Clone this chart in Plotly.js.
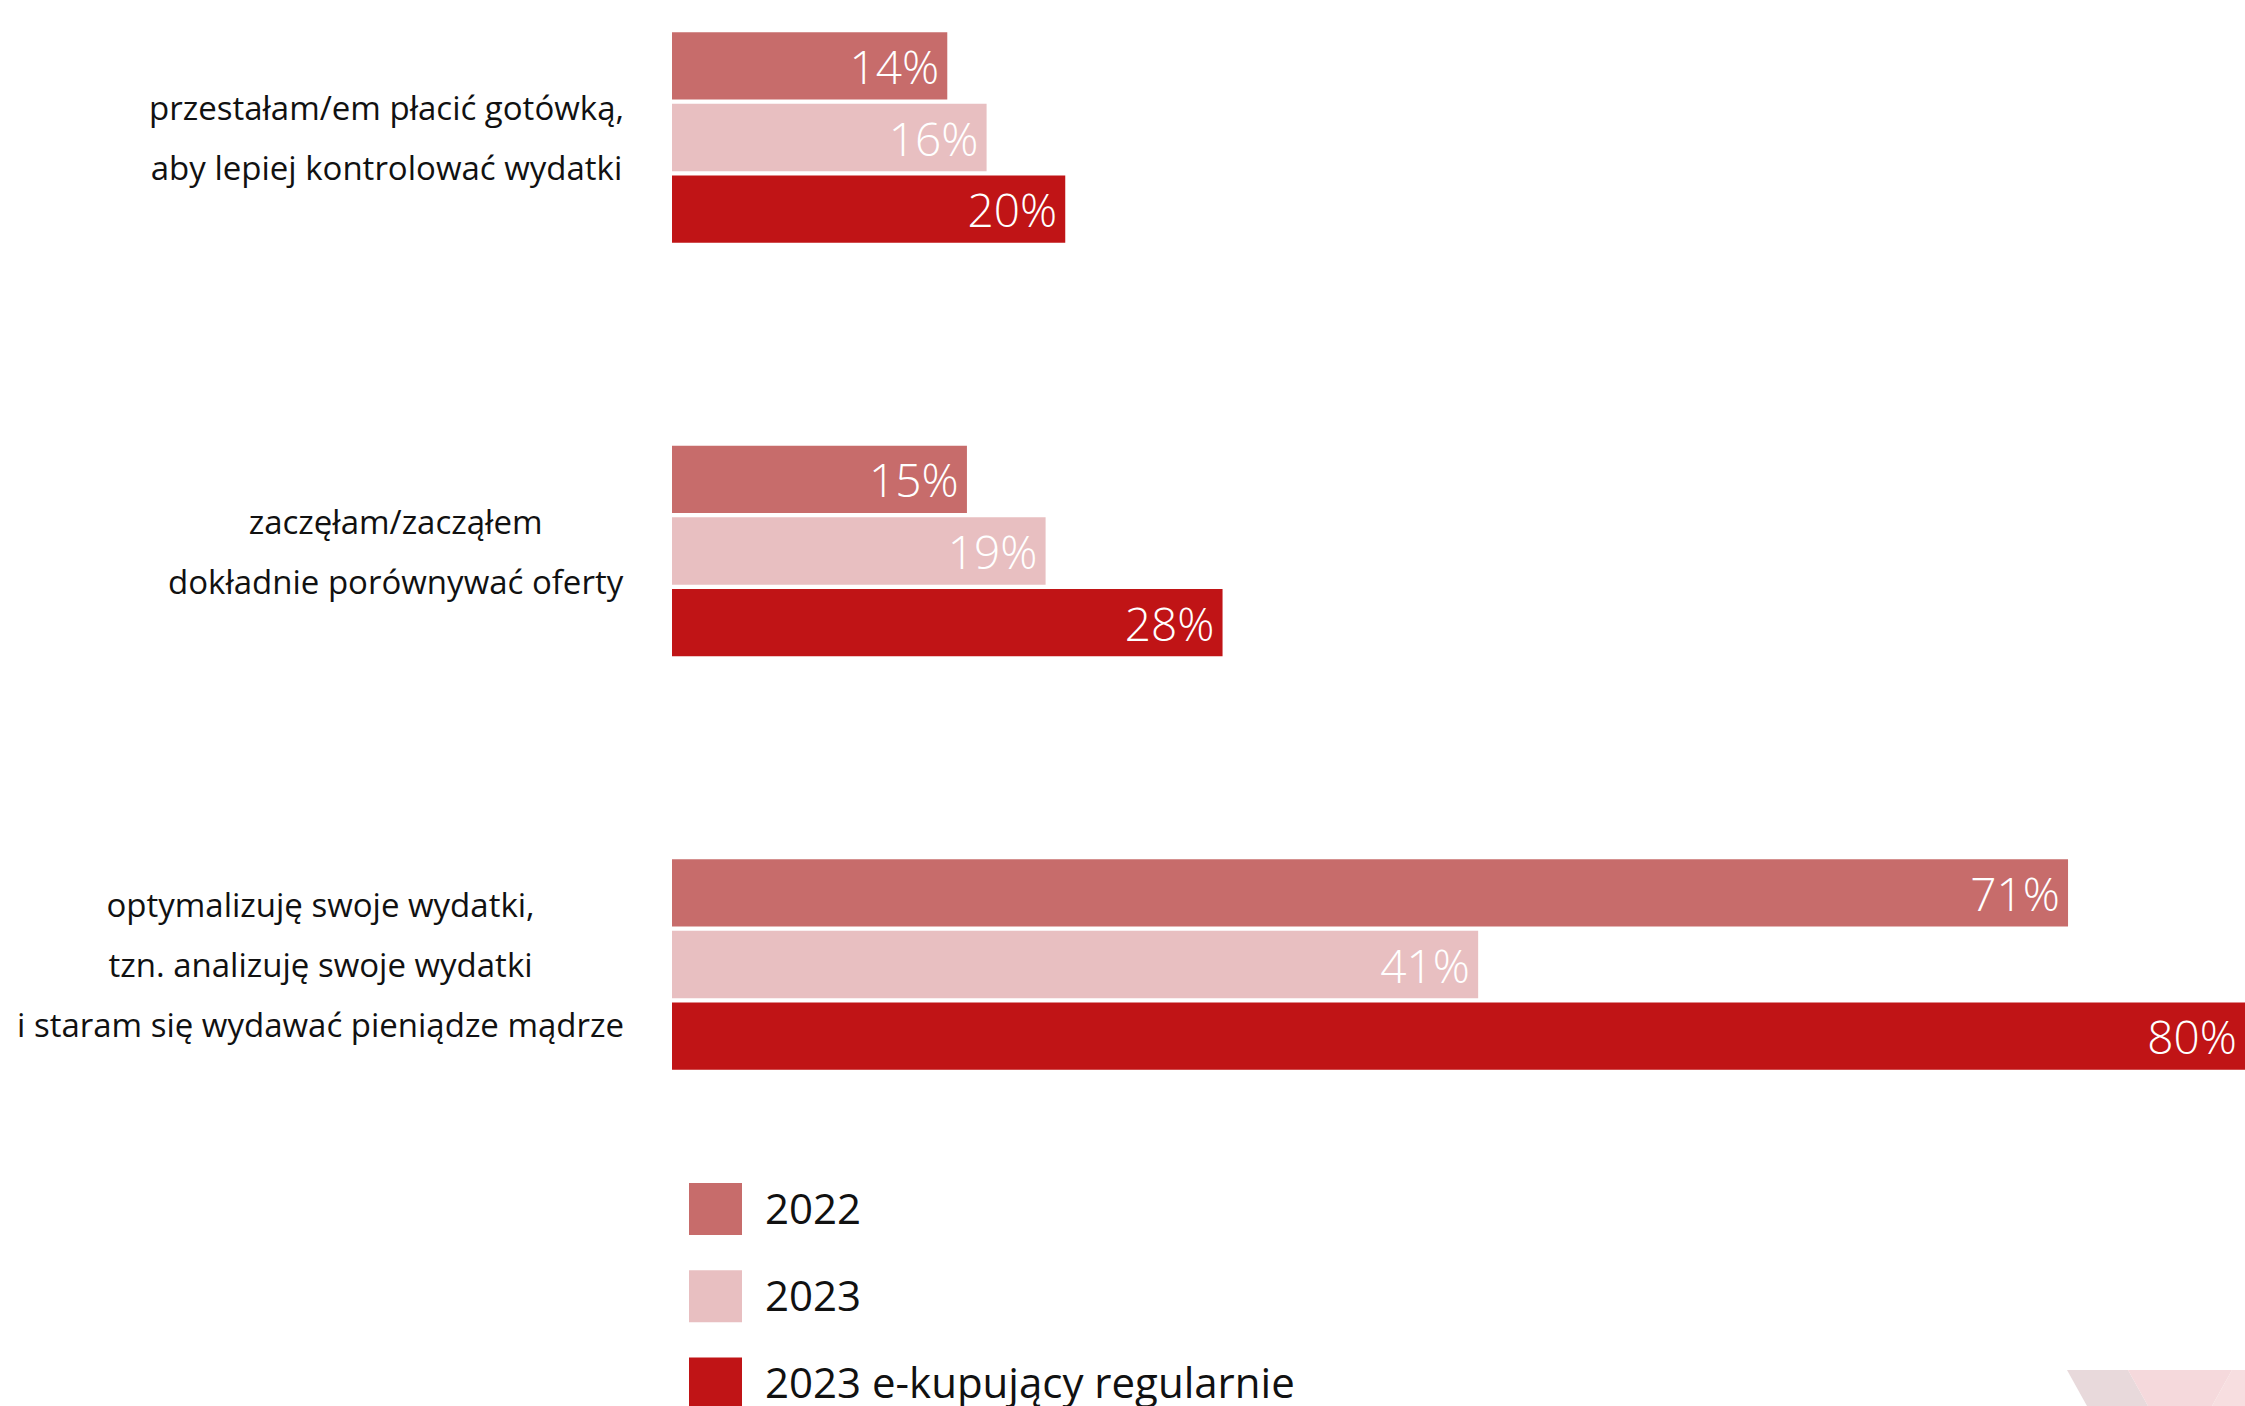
<!DOCTYPE html>
<html><head><meta charset="utf-8">
<script src="https://cdn.plot.ly/plotly-3.0.1.min.js"></script>
<style>html,body{margin:0;padding:0;background:#fff;} #chart{width:2245px;height:1406px;}</style>
</head><body><div id="chart"></div>
<script>
// ---- data ----
const categoryLines = [
  ['przestałam/em płacić gotówką,', 'aby lepiej kontrolować wydatki'],
  ['zaczęłam/zacząłem', 'dokładnie porównywać oferty'],
  ['optymalizuję swoje wydatki,', 'tzn. analizuję swoje wydatki', 'i staram się wydawać pieniądze mądrze']
];
const categories = categoryLines.map(l => l.join(' '));
const seriesNames = ['2022', '2023', '2023 e-kupujący regularnie'];
const values2022 = [14, 15, 71];
const values2023 = [16, 19, 41];
const valuesRegular = [20, 28, 80];

// ---- styles ----
const seriesColors = ['#C76C6B', '#E8BFC1', '#C01416'];
const FONT = '"Open Sans", "Noto Sans", sans-serif';
const W = 2245, H = 1406, L = 672;
const pitch = 413.5, firstCenter = 137.5;
const yTop = -firstCenter / pitch, yBottom = (H - firstCenter) / pitch;
const px2x = p => (p - L) / (W - L);
const px2y = p => 1 - p / H;

const seriesValues = [values2022, values2023, valuesRegular];
const traces = seriesValues.map((vals, i) => ({
  type: 'bar', orientation: 'h',
  name: seriesNames[i],
  x: vals, y: categories,
  marker: {color: seriesColors[i], line: {width: 0}},
  text: vals.map(v => v + '%<span style="font-size:20px">\u00A0</span>'),
  textposition: 'inside', insidetextanchor: 'end',
  textfont: {family: FONT, size: 46, color: '#ffffff', weight: 300},
  constraintext: 'none',
  hoverinfo: 'skip', showlegend: false
}));

const annotations = [];
categoryLines.forEach((lines, i) => {
  annotations.push({
    xref: 'x', yref: 'y', x: 0, y: i, xanchor: 'right', yanchor: 'middle',
    xshift: -46, align: 'center', showarrow: false,
    text: lines.map(t => '<span style="font-size:33px">' + t + '</span>').join('<br>'),
    font: {family: FONT, size: 46, color: '#111111'}
  });
});

const shapes = [];
const legendTop = 1183, legendPitch = 87.3, sw = 53, sh = 52;
seriesNames.forEach((n, i) => {
  const t = legendTop + i * legendPitch;
  shapes.push({type: 'rect', xref: 'paper', yref: 'paper', layer: 'above',
    x0: px2x(689), x1: px2x(689 + sw), y0: px2y(t), y1: px2y(t + sh),
    fillcolor: seriesColors[i], line: {width: 0}});
  annotations.push({xref: 'paper', yref: 'paper', x: px2x(763), y: px2y(t + sh / 2 - 2),
    xanchor: 'left', yanchor: 'middle', showarrow: false, text: n,
    font: {family: FONT, size: 42, color: '#111111'}});
});

// decorative corner
const poly = (pts, color) => ({type: 'path', xref: 'paper', yref: 'paper', layer: 'below',
  path: 'M' + pts.map(p => px2x(p[0]) + ',' + px2y(p[1])).join(' L') + ' Z',
  fillcolor: color, line: {width: 0}});
shapes.push(poly([[2067,1370],[2128,1370],[2148,1406],[2087,1406]], '#E8D9DB'));
shapes.push(poly([[2128,1370],[2232,1370],[2212,1406],[2148,1406]], '#F5D9DC'));
shapes.push(poly([[2232,1370],[2246,1370],[2246,1406],[2212,1406]], '#F7DEE0'));

const layout = {
  width: W, height: H,
  margin: {l: L, r: 0, t: 0, b: 0, pad: 0},
  paper_bgcolor: '#ffffff', plot_bgcolor: '#ffffff',
  barmode: 'group', bargap: 0.48, bargroupgap: 0.06,
  showlegend: false,
  xaxis: {range: [0, 80], visible: false, fixedrange: true},
  yaxis: {type: 'category', categoryorder: 'array', categoryarray: categories,
    range: [yBottom, yTop], showticklabels: false, showgrid: false, zeroline: false,
    showline: false, ticks: '', fixedrange: true},
  font: {family: FONT},
  annotations: annotations, shapes: shapes
};

Plotly.newPlot('chart', traces, layout, {staticPlot: true, displayModeBar: false});
</script>
</body></html>
